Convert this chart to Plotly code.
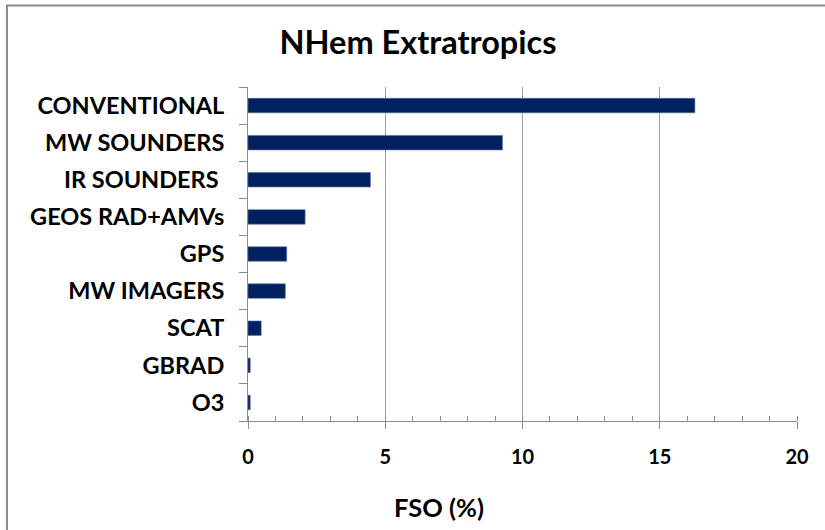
import plotly.graph_objects as go

categories = ["CONVENTIONAL", "MW SOUNDERS", "IR SOUNDERS\u00a0", "GEOS RAD+AMVs",
              "GPS", "MW IMAGERS", "SCAT", "GBRAD", "O3"]
fso_values = [16.28, 9.27, 4.46, 2.08, 1.41, 1.36, 0.48, 0.08, 0.08]
x_tick_values = [0, 5, 10, 15, 20]
title_text = "NHem Extratropics"
x_title_text = "FSO (%)"

FONT = "Lato"
W, H = 825, 530
L, R, T, B = 248, 28, 86.5, 109
plot_w = W - L - R
plot_h = H - T - B

fig = go.Figure()
fig.add_trace(go.Bar(
    x=fso_values, y=categories, orientation="h",
    marker=dict(color="#002060", line=dict(color="#5a6f9a", width=0.6)),
    showlegend=False,
))

fig.update_layout(
    width=W, height=H,
    margin=dict(l=L, r=R, t=T, b=B, pad=0),
    paper_bgcolor="white", plot_bgcolor="white",
    bargap=0.61,
    title=dict(text=f"<b>{title_text}</b>", xref="container", x=418 / W,
               xanchor="center", yref="container", y=1 - 43 / H, yanchor="middle",
               font=dict(family=FONT, size=32.5, color="black")),
    font=dict(family=FONT, color="black"),
)

fig.update_xaxes(
    range=[0, 20], tickvals=x_tick_values,
    ticktext=[f"<b>{v}</b>" for v in x_tick_values],
    tickfont=dict(family=FONT, size=20, color="black"),
    showgrid=True, gridcolor="#a0a0a0", gridwidth=1,
    showline=True, linecolor="#8c8c8c", linewidth=1,
    ticks="outside", ticklen=7, tickcolor="#8c8c8c",
    ticklabelstandoff=11,
    minor=dict(ticks="inside", dtick=1, ticklen=5, tickcolor="#8c8c8c", showgrid=False),
    zeroline=False, fixedrange=True,
)

fig.update_yaxes(
    autorange="reversed",
    ticktext=[f"<b>{c}</b>" for c in categories], tickvals=categories,
    tickfont=dict(family=FONT, size=23.5, color="black"),
    showline=True, linecolor="#8c8c8c", linewidth=1,
    ticks="outside", ticklen=8, tickcolor="#8c8c8c", tickson="boundaries",
    ticklabelstandoff=18,
    showgrid=False, zeroline=False,
)

# x-axis title placed as in the reference (left of plot centre)
fig.add_annotation(
    text=f"<b>{x_title_text}</b>", xref="paper", yref="paper",
    x=(439 - L) / plot_w, y=(H - B - 507) / plot_h,
    xanchor="center", yanchor="middle", showarrow=False,
    font=dict(family=FONT, size=25.5, color="black"),
)

# outer chart frame (top-left visible, as in the cropped reference)
fig.add_shape(
    type="rect", xref="paper", yref="paper", layer="above",
    x0=(7 - L) / plot_w, x1=(W + 20 - L) / plot_w,
    y0=(H - B - (H + 20)) / plot_h, y1=(H - B - 5) / plot_h,
    line=dict(color="#8c8c8c", width=2), fillcolor="rgba(0,0,0,0)",
)

fig.write_html(
    "out.html",
    config={"displayModeBar": False},
    post_script="document.body.style.margin='0';document.body.style.overflow='hidden';",
)
